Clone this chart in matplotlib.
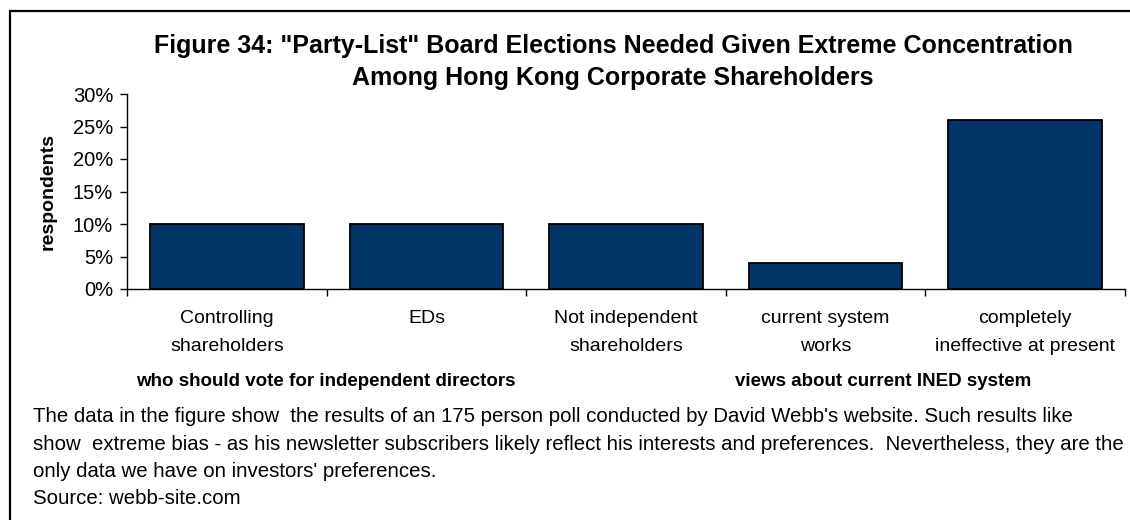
import matplotlib.pyplot as plt
from matplotlib.patches import Rectangle
from matplotlib.ticker import FuncFormatter

categories = ["Controlling\nshareholders", "EDs", "Not independent\nshareholders",
              "current system\nworks", "completely\nineffective at present"]
values = [10, 10, 10, 4, 26]
yticks = [0, 5, 10, 15, 20, 25, 30]

title = ('Figure 34: "Party-List" Board Elections Needed Given Extreme Concentration\n'
         'Among Hong Kong Corporate Shareholders')
group_labels = ["who should vote for independent directors", "views about current INED system"]
notes = [
    "The data in the figure show  the results of an 175 person poll conducted by David Webb's website. Such results like",
    "show  extreme bias - as his newsletter subscribers likely reflect his interests and preferences.  Nevertheless, they are the",
    "only data we have on investors' preferences.",
    "Source: webb-site.com",
]

W, H = 1130, 520
plt.rcParams["font.family"] = ["Liberation Sans", "DejaVu Sans"]

fig = plt.figure(figsize=(W / 100, H / 100), dpi=100)
ax = fig.add_axes([127 / W, 1 - 289 / H, (1125 - 127) / W, (289 - 94) / H])

x = list(range(len(values)))
ax.bar(x, values, width=0.77, color="#003366", edgecolor="black", linewidth=1.3, zorder=3)

ax.set_xlim(-0.5, len(values) - 0.5)
ax.set_ylim(0, 30)
ax.set_yticks(yticks)
ax.yaxis.set_major_formatter(FuncFormatter(lambda v, p: f"{v:.0f}%"))
ax.tick_params(axis="y", labelsize=14.5, length=5, width=1, pad=5)

# boundaries get the ticks, centres get the labels
ax.set_xticks([i - 0.5 for i in range(len(values) + 1)])
ax.set_xticklabels([])
ax.tick_params(axis="x", which="major", length=5, width=1)
ax.set_xticks(x, minor=True)
ax.set_xticklabels(categories, minor=True, fontsize=14, linespacing=1.88)
ax.tick_params(axis="x", which="minor", length=0, pad=15)

for s in ["top", "right"]:
    ax.spines[s].set_visible(False)
ax.spines["left"].set_linewidth(1)
ax.spines["bottom"].set_linewidth(1)

ax.set_ylabel("respondents", fontsize=14, fontweight="bold")
ax.yaxis.set_label_coords(-0.071, 0.5)

fig.text(613 / W, 1 - 62 / H, title, ha="center", va="center", fontsize=18,
         fontweight="bold", linespacing=1.4)

fig.text(326 / W, 1 - 381 / H, group_labels[0], ha="center", va="center",
         fontsize=13.5, fontweight="bold")
fig.text(883 / W, 1 - 381 / H, group_labels[1], ha="center", va="center",
         fontsize=13.5, fontweight="bold")

for i, line in enumerate(notes):
    fig.text(33 / W, 1 - (417 + 27.3 * i) / H, line, ha="left", va="center", fontsize=14.7)

fig.patches.append(Rectangle((10 / W, -0.1), 1.2, 1.1 - 11 / H, transform=fig.transFigure,
                             fill=False, edgecolor="black", linewidth=1.6))

fig.savefig("out.png", dpi=100)
